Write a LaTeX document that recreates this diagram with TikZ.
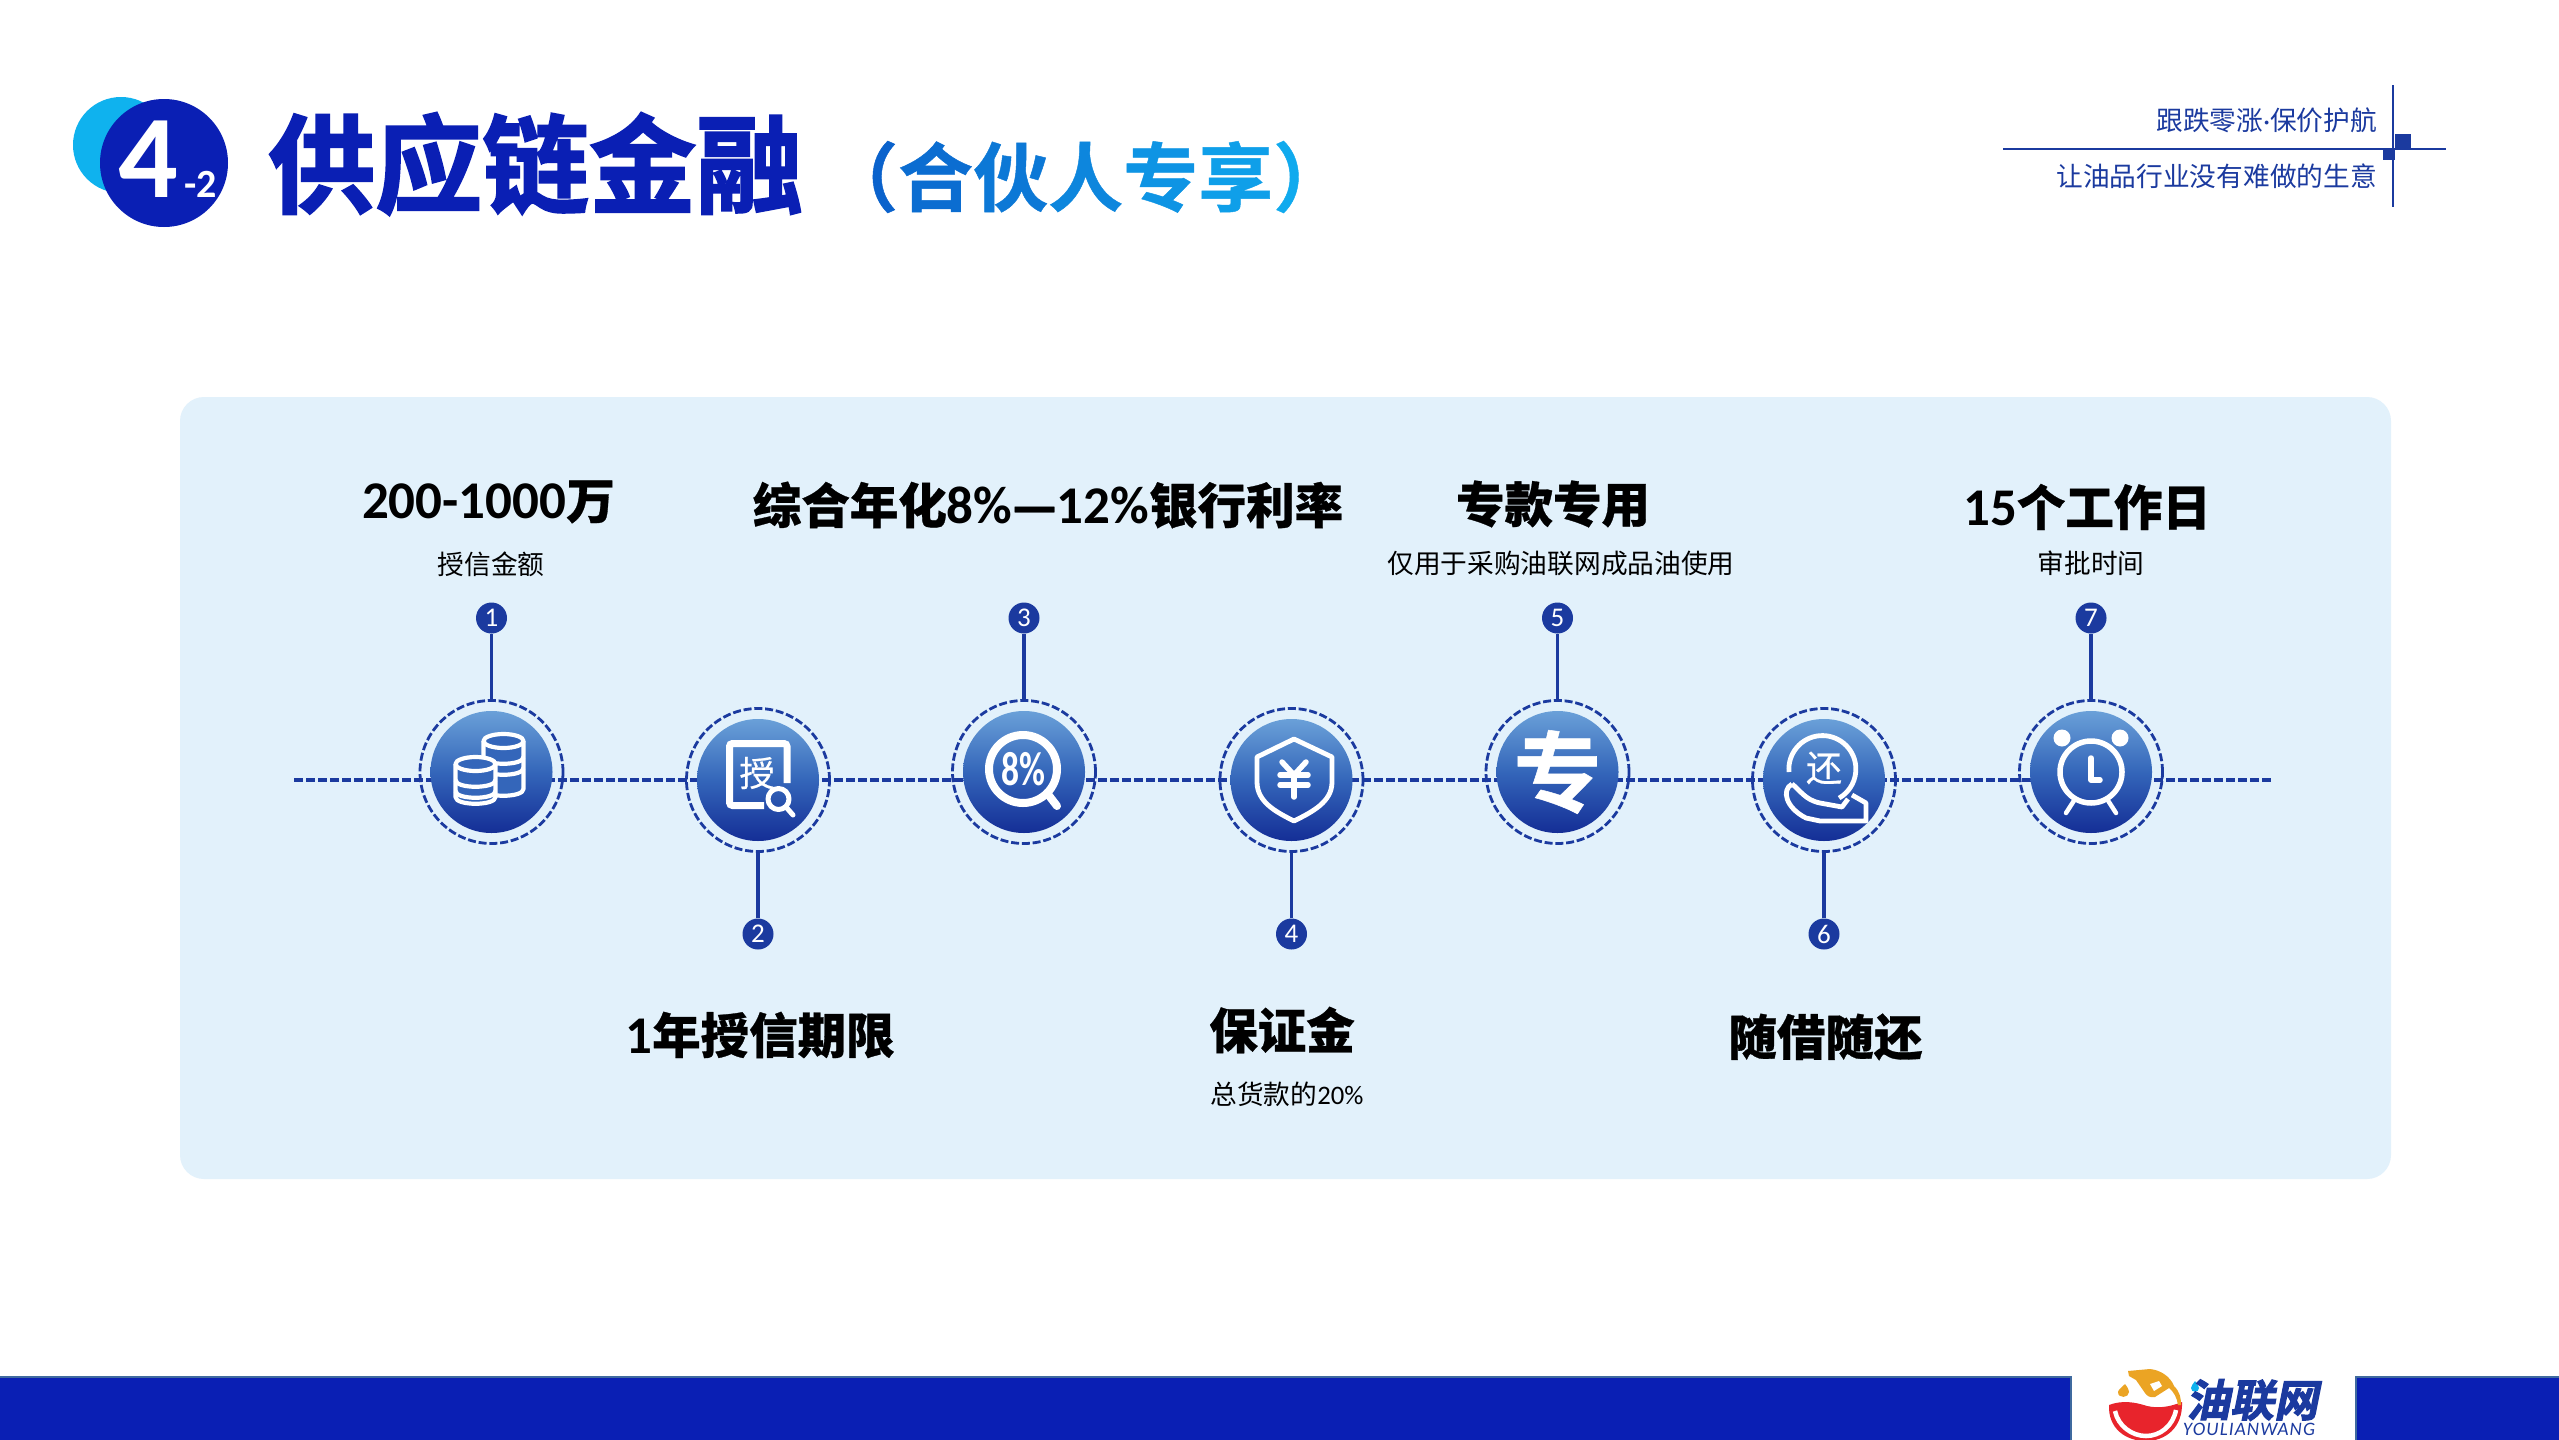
\documentclass[tikz,border=0pt]{standalone}
\usepackage{fontspec}
\usetikzlibrary{calc}
\setmainfont{Noto Sans CJK SC}
\newfontfamily\cjk{Noto Sans CJK SC}
\newfontfamily\cjkmedium[FakeBold=0.5]{Noto Sans CJK SC}
\newfontfamily\cjkbold[FakeBold=0.6]{Noto Sans CJK SC Bold}
\newfontfamily\cjkheavy[FakeBold=2]{Noto Sans CJK SC Bold}
\newfontfamily\cjkslant[FakeSlant=0.2,FakeBold=2.5]{Noto Sans CJK SC Bold}
\newfontfamily\lat{Carlito}
\newfontfamily\latspaced[LetterSpace=6]{Carlito}
\definecolor{barblue}{HTML}{0A1FB4}
\definecolor{barline}{HTML}{3F6A9F}
\definecolor{navy}{HTML}{1B3A9F}
\definecolor{panelblue}{HTML}{E2F1FB}
\definecolor{cyanlight}{HTML}{0FB2EE}
\definecolor{subleft}{HTML}{0A62CC}
\definecolor{subright}{HTML}{10AAEE}
\definecolor{discmid}{HTML}{3466BA}
\definecolor{oilred}{HTML}{E8242C}
\definecolor{oilorange}{HTML}{EBA424}
\tikzset{>=latex}
\tikzset{
  headtext/.style = {inner sep = 0, font = \fontsize{48.5}{49}\selectfont\bfseries\cjkbold},
  subtext/.style = {inner sep = 0, font = \fontsize{26.7}{27}\selectfont\cjk},
  slogan/.style = {inner sep = 0, anchor = east, text = navy, font = \fontsize{26.7}{27}\selectfont\cjk},
  ringnode/.style = {circle, draw = navy, line width = 2.8, dash pattern = on 8pt off 2.8pt, minimum size = 143, inner sep = 0},
  discnode/.style = {circle, minimum size = 122, inner sep = 0, top color = {rgb,255:red,106;green,160;blue,216}, bottom color = {rgb,255:red,20;green,46;blue,150}, middle color = discmid},
  badgenode/.style = {circle, fill = navy, text = white, minimum size = 31, inner sep = 0, font = \fontsize{27}{27}\selectfont\lat},
  stem/.style = {draw = navy, line width = 3.4},
  dashline/.style = {draw = navy, line width = 3.4, dash pattern = on 9pt off 3pt},
  iconline/.style = {draw = white, line width = 4.2, line join = round},
  iconthick/.style = {draw = white, line width = 5.5, line cap = round, line join = round},
  icontext/.style = {inner sep = 0, text = white}
}
\begin{document}
\begin{tikzpicture}[x = 1pt, y = -1pt]
\useasboundingbox[fill = white] (0, 0) rectangle (2559, 1440);

% title
\fill[cyanlight] (121, 145) circle (48);
\fill[barblue] (164, 163) circle (64);
\node[inner sep = 0, text = white] (numfour) at (148, 159) {\fontsize{118}{118}\selectfont\bfseries\lat 4};
\node[inner sep = 0, text = white] (numsub) at (201, 184) {\fontsize{40}{40}\selectfont\bfseries\lat -2};
\node[inner sep = 0, text = barblue, anchor = west] (title) at (268, 164) {\fontsize{107}{107}\selectfont\cjkheavy 供应链金融};
\node[inner sep = 0, anchor = west] (subtitle) at (823, 177) {\fontsize{75}{75}\selectfont\cjkbold
  \textcolor{subleft}{（}\textcolor{subright!15!subleft}{合}\textcolor{subright!30!subleft}{伙}\textcolor{subright!50!subleft}{人}\textcolor{subright!70!subleft}{专}\textcolor{subright!85!subleft}{享}\textcolor{subright}{）}};

% corner mark
\draw[navy, line width = 1.6] (2003, 149) -- (2446, 149);
\draw[navy, line width = 1.6] (2393, 85) -- (2393, 207);
\fill[navy] (2395, 134) rectangle (2411, 150);
\fill[navy] (2383, 149) rectangle (2395, 160);
\node[slogan] (sloganA) at (2377, 120) {跟跌零涨{\lat ·}保价护航};
\node[slogan] (sloganB) at (2377, 176) {让油品行业没有难做的生意};

% panel and time line
\fill[panelblue, rounded corners = 24] (180, 397) rectangle (2391, 1179);
\coordinate (lineL) at (294, 780);
\coordinate (lineR) at (2272, 780);
\draw[dashline] (lineL) -- (lineR);

\foreach \i/\x/\y/\by in {1/491.5/772/618, 2/758/780/934, 3/1024/772/618, 4/1291.5/780/934, 5/1557.5/772/618, 6/1824/780/934, 7/2091/772/618} {
  \node[ringnode] (ring\i) at (\x, \y) {};
  \node[discnode] (disc\i) at (\x, \y) {};
  \node[badgenode] (num\i) at (\x, \by) {\i};
  \draw[stem] (num\i) -- (ring\i);
}

% headings
\node[headtext] (headA) at (488.5, 502) {{\fontsize{53}{53}\selectfont\lat 200-1000}万};
\node[subtext] (subA) at (491, 564) {授信金额};
\node[headtext] (headB) at (1048, 505) {综合年化{\fontsize{53}{53}\selectfont\lat 8\%}—{\fontsize{53}{53}\selectfont\lat 12\%}银行利率};
\node[headtext] (headC) at (1553, 504) {专款专用};
\node[subtext] (subC) at (1561, 563) {仅用于采购油联网成品油使用};
\node[headtext] (headD) at (2087, 507) {{\fontsize{53}{53}\selectfont\lat 15}个工作日};
\node[subtext] (subD) at (2091, 563) {审批时间};
\node[headtext] (headE) at (760, 1035) {{\fontsize{53}{53}\selectfont\lat 1}年授信期限};
\node[headtext] (headF) at (1282, 1030) {保证金};
\node[subtext] (subF) at (1287, 1094) {总货款的{\lat 20\%}};
\node[headtext] (headG) at (1825.5, 1037) {随借随还};

% coins
\foreach \cx/\cy/\cb in {503.5/741/789, 475.5/764/797} {
  \begin{scope}[shift = {(\cx, \cy)}]
    \draw[iconline, fill = discmid] (-20, 0) -- (-20, \cb - \cy) .. controls (-20, \cb - \cy + 9) and (20, \cb - \cy + 9) .. (20, \cb - \cy) -- (20, 0);
    \draw[iconline, fill = discmid] (0, 0) ellipse (20 and 7);
    \foreach \d in {16, 27} {
      \draw[iconline] (-20, \d) .. controls (-20, \d + 9) and (20, \d + 9) .. (20, \d);
    }
  \end{scope}
}

% paper and glass
\draw[white, line width = 7, rounded corners = 3] (787, 783) -- (787, 743.5) -- (729.5, 743.5) -- (729.5, 805.5) -- (764, 805.5);
\node[icontext] (paperword) at (757, 773) {\fontsize{35}{35}\selectfont\cjkmedium 授};
\draw[iconline, line width = 5] (778.5, 799) circle (10.5);
\draw[iconthick, line width = 5] (786, 807) -- (793, 815);

% rate glass
\draw[white, line width = 8] (1023, 769) circle (34);
\draw[iconthick, line width = 8] (1047, 793) -- (1057, 806);
\node[icontext] (rateword) at (1023, 769) {\scalebox{0.74}[1]{\fontsize{48}{48}\selectfont\bfseries\lat 8\%}};

% shield
\draw[iconline, line width = 4.8] (1294, 739) -- (1332, 757) -- (1332, 782) .. controls (1332, 802) and (1312, 812) .. (1294, 821) .. controls (1276, 812) and (1257, 802) .. (1257, 782) -- (1257, 757) -- cycle;
\draw[iconthick] (1282, 762) -- (1294, 775) -- (1306, 762);
\draw[iconthick] (1280, 775) -- (1308, 775);
\draw[iconthick] (1280, 785) -- (1308, 785);
\draw[iconthick] (1294, 775) -- (1294, 797);

% special
\node[icontext] (specialword) at (1557.5, 772) {\fontsize{88}{88}\selectfont\cjkbold 专};

% repay hand
\draw[iconline, line width = 4.8] (1789, 772) arc (175:420:33.5);
\node[icontext] (repayword) at (1824, 768) {\fontsize{36}{36}\selectfont\cjkmedium 还};
\draw[iconline, line width = 4.8] (1792, 784) .. controls (1781, 790) and (1786, 808) .. (1806, 818) -- (1820, 821) -- (1866, 821) -- (1866, 803) -- (1852, 795);
\draw[iconline, line width = 4.8] (1792, 784) .. controls (1800, 790) and (1805, 800) .. (1820, 803) -- (1842, 807) -- (1848, 799);

% clock
\draw[white, line width = 5.5] (2091, 772) circle (31);
\fill[white] (2062, 738) circle (8.5);
\fill[white] (2120, 738) circle (8.5);
\draw[iconthick, line width = 4.5] (2075, 799) -- (2066, 813);
\draw[iconthick, line width = 4.5] (2107, 799) -- (2116, 813);
\draw[iconthick] (2091, 758) -- (2091, 780) -- (2100, 780);

% bottom bar
\draw[barline, line width = 2.5, fill = barblue] (-5, 1377) -- (2071, 1377) -- (2071, 1445) -- (-5, 1445) -- cycle;
\draw[barline, line width = 2.5, fill = barblue] (2356, 1445) -- (2356, 1377) -- (2565, 1377) -- (2565, 1445) -- cycle;

% logo
\begin{scope}
  \clip (2072, 1360) rectangle (2355, 1440);
  \fill[oilred] (2109, 1405) .. controls (2122, 1400) and (2135, 1402) .. (2147, 1406) .. controls (2160, 1409) and (2172, 1406) .. (2182, 1402) .. controls (2183, 1428) and (2165, 1441) .. (2146, 1441) .. controls (2125, 1441) and (2108, 1428) .. (2109, 1405) -- cycle;
  \draw[white, line width = 4.5] (2115, 1411) .. controls (2118, 1426) and (2132, 1436) .. (2146, 1436) .. controls (2160, 1436) and (2173, 1426) .. (2176, 1410);
  \fill[oilorange] (2128, 1371) -- (2150, 1369) .. controls (2160, 1370) and (2170, 1376) .. (2174, 1386) .. controls (2180, 1392) and (2181, 1398) .. (2181, 1405) -- (2178, 1405) .. controls (2177, 1398) and (2174, 1392) .. (2169, 1388) -- (2155, 1397) .. controls (2150, 1398) and (2147, 1396) .. (2145, 1393) -- (2136, 1380) -- (2129, 1376) -- cycle;
  \fill[white] (2150, 1384) -- (2159, 1381) -- (2162, 1386) -- (2154, 1391) -- cycle;
  \fill[oilorange] (2125, 1384) .. controls (2128, 1388) and (2129, 1390) .. (2129, 1392) .. controls (2129, 1398) and (2118, 1399) .. (2118, 1392) .. controls (2118, 1390) and (2122, 1387) .. (2125, 1384) -- cycle;
  \fill[cyanlight] (2195, 1381) .. controls (2197, 1384) and (2199, 1386) .. (2199, 1388) .. controls (2199, 1393) and (2191, 1393) .. (2191, 1388) .. controls (2191, 1386) and (2193, 1384) .. (2195, 1381) -- cycle;
\end{scope}
\node[inner sep = 0, text = navy] (logoword) at (2252, 1400) {\fontsize{44}{44}\selectfont\cjkslant 油联网};
\node[inner sep = 0, text = navy] (logolatin) at (2249, 1429) {\fontsize{19}{19}\selectfont\latspaced\itshape YOULIANWANG};
\end{tikzpicture}
\end{document}
